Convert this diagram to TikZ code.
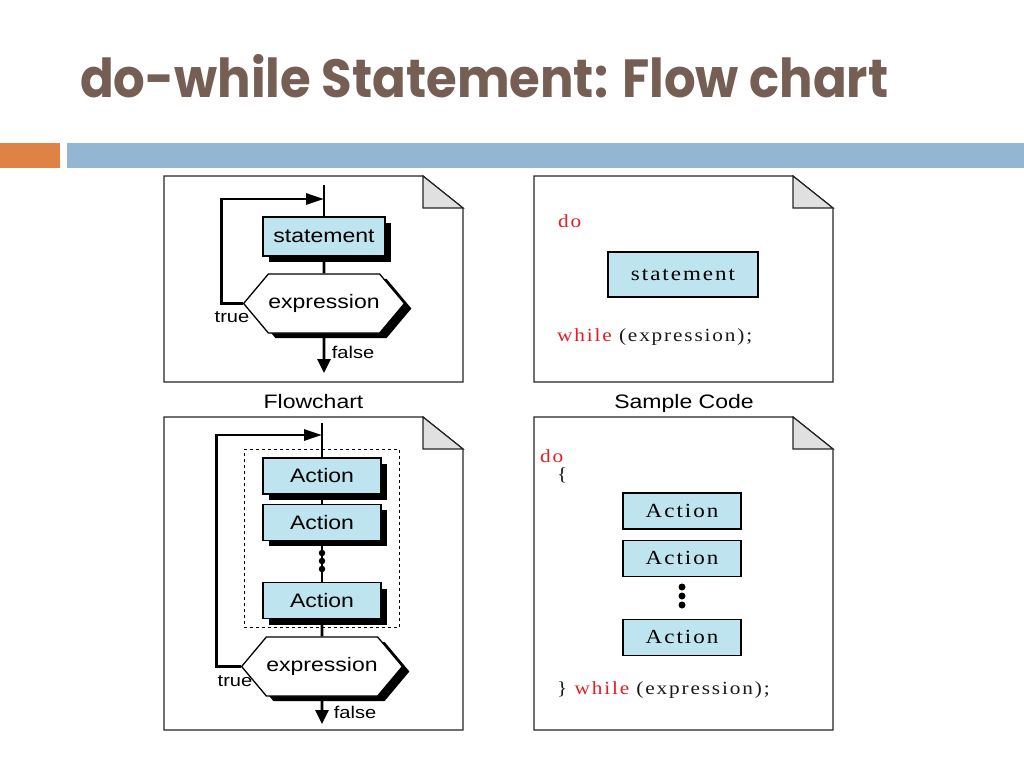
\documentclass[tikz,border=0pt]{standalone}
\usepackage{fontspec}
\usepackage{xcolor}
\usepackage{graphicx}
\usepackage{tikz}
\usetikzlibrary{
    shapes,
    shapes.symbols,
    positioning,
    shadows,
    calc,
    arrows.meta,
    fit
}
\newfontfamily\chartfont[FakeStretch=1.18]{Liberation Sans}
\newfontfamily\codefont[FakeStretch=1.15,LetterSpace=10]{Liberation Serif}
\newfontfamily\titlefont{Poppins}
\definecolor{titlebrown}{RGB}{117,95,85}
\definecolor{accent}{RGB}{223,130,70}
\definecolor{barblue}{RGB}{147,182,210}
\definecolor{boxblue}{RGB}{190,229,239}
\definecolor{foldgray}{RGB}{224,224,224}
\definecolor{codered}{RGB}{225,30,35}
\tikzset{
  basic/.style = {
      draw,
      fill=boxblue,
      rectangle,
      align=center,
      inner sep=0pt
  },
  action/.style = {
      basic,
      line width=1.3pt,
      minimum width=118pt,
      minimum height=36pt,
      font=\chartfont\fontsize{19.5}{22}\selectfont,
      drop shadow={shadow xshift=6pt, shadow yshift=-6pt, fill=black, opacity=1}
  },
  codebox/.style = {
      basic,
      line width=1.1pt,
      minimum width=118pt,
      minimum height=36pt,
      font=\codefont\fontsize{20}{22}\selectfont
  },
  test/.style = {
      draw,
      fill=white,
      line width=1.3pt,
      signal,
      signal to=east and west,
      signal pointer angle=100,
      minimum width=154pt,
      minimum height=59pt,
      inner sep=0pt,
      font=\chartfont\fontsize{19.5}{22}\selectfont,
      drop shadow={shadow xshift=7pt, shadow yshift=-5pt, fill=black, opacity=1}
  },
  group/.style = {
      draw,
      dashed,
      line width=0.9pt,
      inner xsep=18pt,
      inner ysep=8pt
  },
  label/.style = {
      font=\chartfont\fontsize{17}{20}\selectfont,
      inner sep=0pt
  },
  caption/.style = {
      font=\chartfont\fontsize{19.5}{22}\selectfont,
      inner sep=0pt,
      anchor=base
  },
  code/.style = {
      font=\codefont\fontsize{18.5}{20}\selectfont,
      text=black!90,
      inner sep=0pt,
      anchor=west
  },
  flow/.style = {
      line width=2.8pt
  },
  page/.style = {
      draw=black!85,
      line width=1.2pt
  },
  dot/.style = {
      circle,
      fill=black,
      inner sep=0pt,
      minimum size=6.5pt
  }
}

\begin{document}
\begin{tikzpicture}[x=1pt, y=-1pt, node distance=9pt]
    \useasboundingbox (0,0) rectangle (1024,768);
    \fill[white] (0,0) rectangle (1024,768);
    % Heading
    \node[inner sep=0pt, anchor=south west, text=titlebrown] (heading) at (80,98)
        {\resizebox{808pt}{43pt}{\titlefont\bfseries do-while Statement: Flow chart}};
    \fill[accent] (0,143) rectangle (60,168);
    \fill[barblue] (67,143) rectangle (1024,168);
    % Pages
    \foreach \xa/\ya/\xb/\yb in {164/176/463/382, 534/176/833/382,
                                 164/417/463/730, 534/417/833/730} {
        \draw[page, fill=white] (\xa,\ya) -- (\xb-40,\ya) -- (\xb,\ya+32)
            -- (\xb,\yb) -- (\xa,\yb) -- cycle;
        \draw[page, fill=foldgray] (\xb-40,\ya) -- (\xb-40,\ya+32) -- (\xb,\ya+32) -- cycle;
    }
    \node[caption] (cap1) at (313.5,408.5) {Flowchart};
    \node[caption] (cap2) at (684,408.5) {Sample Code};

    % Flowchart, single statement
    \coordinate (top1) at (324,185);
    \coordinate (join1) at (324,199);
    \node[action, minimum width=122pt, minimum height=39pt] (stmt1) at (324,236.5) {statement};
    \node[test] (hex1) at (324,303.5) {expression};
    \coordinate (end1) at (324,373);
    \node[label] (true1) at (232,317) {true};
    \node[label] (false1) at (353,352) {false};
    % Edges
    \draw[flow] (top1) -- (stmt1);
    \draw[flow] (stmt1) -- (hex1);
    \draw[flow, -{Triangle[length=14pt, width=13pt]}] (hex1) -- (end1);
    \draw[flow, -{Triangle[length=18pt, width=11pt]}] (hex1.west) -- ++(-21,0) |- (join1);

    % Flowchart, compound statement
    \coordinate (top2) at (322,423);
    \coordinate (join2) at (322,435);
    \node[action] (act1) at (322,476) {Action};
    \node[action, below=of act1] (act2) {Action};
    \node[action, below=41pt of act2] (act3) {Action};
    \node[group, fit=(act1)(act3)] (body) {};
    \node[test] (hex2) at (322,666.5) {expression};
    \coordinate (end2) at (322,724);
    \node[label] (true2) at (235,681) {true};
    \node[label] (false2) at (355,712) {false};
    % Edges
    \draw[flow] (top2) -- (act1);
    \draw[flow] (act1) -- (act2);
    \draw[flow] (act2) -- (act3);
    \draw[flow] (act3) -- (hex2);
    \draw[flow, -{Triangle[length=14pt, width=13pt]}] (hex2) -- (end2);
    \draw[flow, -{Triangle[length=18pt, width=11pt]}] (hex2.west) -- ++(-24,0) |- (join2);
    \foreach \y in {553,561,569}
        \node[dot] at (322,\y) {};

    % Sample code, single statement
    \node[code, text=codered] (do1) at (558,221) {do};
    \node[codebox, minimum width=150pt, minimum height=45pt] (stmt2) at (683,274.5) {statement};
    \node[code] (while1) at (557,337) {\textcolor{codered}{while} (expression);};

    % Sample code, compound statement
    \node[code, text=codered] (do2) at (540,456) {do};
    \node[code] (open2) at (557,475) {\{};
    \node[codebox] (code1) at (682,511) {Action};
    \node[codebox, below=10pt of code1] (code2) {Action};
    \node[codebox, below=42pt of code2] (code3) {Action};
    \foreach \y in {587,596,605}
        \node[dot, minimum size=7pt] at (682,\y) {};
    \node[code] (while2) at (557,690) {\} \textcolor{codered}{while} (expression);};
\end{tikzpicture}
\end{document}
